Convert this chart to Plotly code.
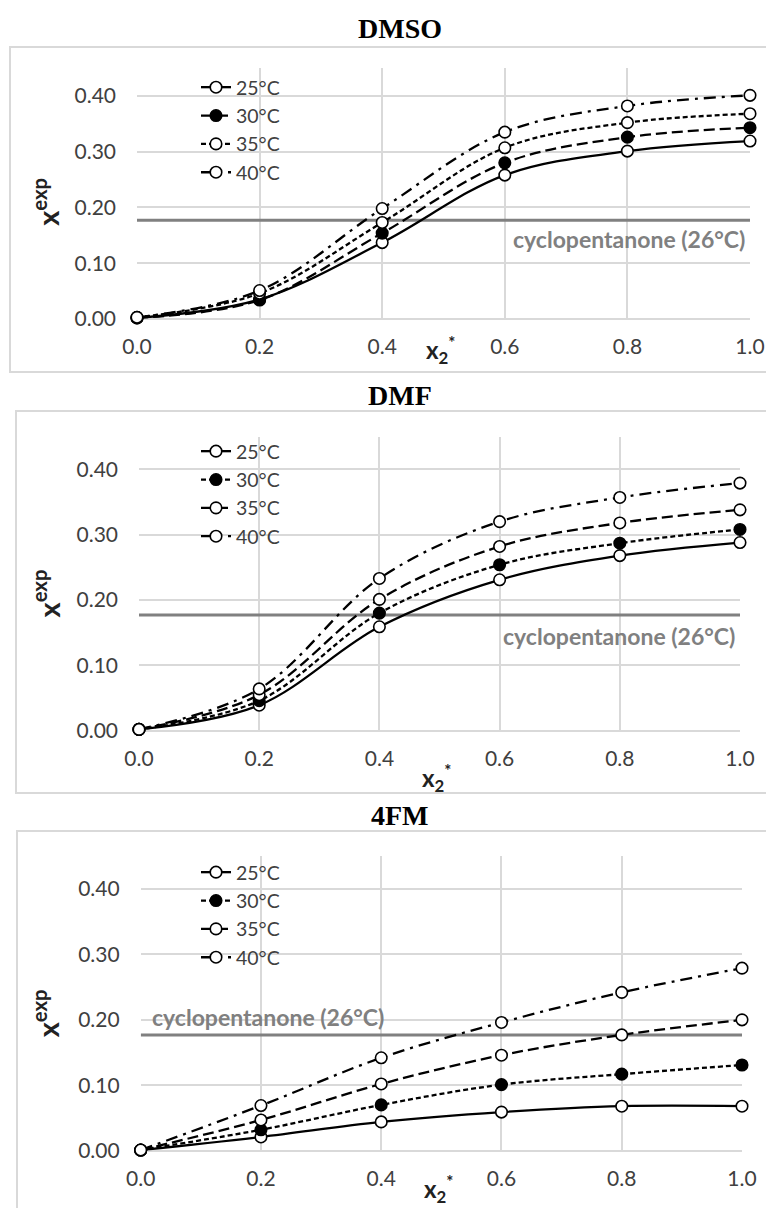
import plotly.graph_objects as go

# ---------------- data ----------------
x2 = [0.0, 0.2, 0.4, 0.6, 0.8, 1.0]
temps = ["25°C", "30°C", "35°C", "40°C"]

dmso_25 = [0.002, 0.035, 0.137, 0.258, 0.301, 0.319]
dmso_30 = [0.002, 0.034, 0.154, 0.280, 0.326, 0.343]
dmso_35 = [0.003, 0.046, 0.173, 0.307, 0.352, 0.368]
dmso_40 = [0.003, 0.051, 0.198, 0.335, 0.382, 0.401]

dmf_25 = [0.002, 0.039, 0.159, 0.231, 0.268, 0.288]
dmf_30 = [0.002, 0.046, 0.180, 0.254, 0.287, 0.308]
dmf_35 = [0.002, 0.055, 0.201, 0.282, 0.318, 0.338]
dmf_40 = [0.002, 0.064, 0.233, 0.320, 0.357, 0.379]

fm_25 = [0.001, 0.021, 0.044, 0.059, 0.068, 0.068]
fm_30 = [0.001, 0.032, 0.070, 0.101, 0.117, 0.131]
fm_35 = [0.001, 0.047, 0.102, 0.146, 0.177, 0.200]
fm_40 = [0.001, 0.069, 0.142, 0.196, 0.242, 0.279]

cyclopentanone = 0.177
cyclo_label = "cyclopentanone (26°C)"

panel_names = ["DMSO", "DMF", "4FM"]
x_ticks = [0.0, 0.2, 0.4, 0.6, 0.8, 1.0]
y_ticks = [0.0, 0.1, 0.2, 0.3, 0.4]

# ---------------- styles ----------------
SOLID = "solid"
LONG = "11px,5px"
SHORT = "5px,3px"
DASHDOT = "12px,6px,3px,6px"

W, H = 774, 1208
OFF = 8  # page body margin


def px_x(p):
    return (p - OFF) / W


def px_y(p):
    return 1 - (p - OFF) / H


panels = [
    dict(name="DMSO", data=[dmso_25, dmso_30, dmso_35, dmso_40],
         dashes=[SOLID, LONG, SHORT, DASHDOT],
         xdom=[px_x(137), px_x(750)], ydom=[px_y(319), px_y(68)],
         title_y=29, legend_top=68, border=(10, 47, 372),
         xt_y=350, cyclo=dict(x=0.995, y=0.143, xanchor="right")),
    dict(name="DMF", data=[dmf_25, dmf_30, dmf_35, dmf_40],
         dashes=[SOLID, SHORT, LONG, DASHDOT],
         xdom=[px_x(139), px_x(740)], ydom=[px_y(730.7), px_y(436.7)],
         title_y=395, legend_top=432, border=(16, 411, 793),
         xt_y=778, cyclo=dict(x=0.995, y=0.145, xanchor="right")),
    dict(name="4FM", data=[fm_25, fm_30, fm_35, fm_40],
         dashes=[SOLID, SHORT, LONG, DASHDOT],
         xdom=[px_x(140.7), px_x(742)], ydom=[px_y(1150.7), px_y(856.3)],
         title_y=815, legend_top=853, border=(17, 831, 1240),
         xt_y=1189, cyclo=dict(x=0.015, y=0.205, xanchor="left")),
]

fig = go.Figure()
TICKFONT = dict(family="Lato, Carlito, Calibri, sans-serif", size=21, color="#404040")
GRID = "#d9d9d9"

annotations = []
shapes = []

for i, p in enumerate(panels):
    sfx = "" if i == 0 else str(i + 1)
    xa, ya = "x" + sfx, "y" + sfx
    leg = "legend" + sfx

    # cyclopentanone reference line
    fig.add_trace(go.Scatter(
        x=[x_ticks[0], x_ticks[-1]], y=[cyclopentanone, cyclopentanone],
        mode="lines", line=dict(color="#808080", width=3),
        showlegend=False, hoverinfo="skip", xaxis=xa, yaxis=ya))

    for j, (t, ys) in enumerate(zip(temps, p["data"])):
        filled = (j == 1)
        fig.add_trace(go.Scatter(
            x=x2, y=ys, name=t, mode="lines+markers",
            line=dict(color="black", width=2.3, dash=p["dashes"][j],
                      shape="spline", smoothing=1.0),
            marker=dict(size=11.5, symbol="circle",
                        color="black" if filled else "white",
                        line=dict(color="black", width=1.6)),
            cliponaxis=False, xaxis=xa, yaxis=ya,
            legend=leg, legendgroup=f"{p['name']}{t}"))

    fig.layout[("xaxis" + sfx)] = dict(
        domain=p["xdom"], anchor=ya, range=[0, 1], tickvals=x_ticks,
        tickformat=".1f", showgrid=True, gridcolor=GRID, gridwidth=1.6,
        zeroline=False, showline=False, ticks="", tickfont=TICKFONT,
        ticklabelstandoff=13, fixedrange=True, automargin=False)
    fig.layout[("yaxis" + sfx)] = dict(
        domain=p["ydom"], anchor=xa, range=[0, 0.45], tickvals=y_ticks,
        tickformat=".2f", showgrid=True, gridcolor=GRID, gridwidth=1.6,
        zeroline=True, zerolinecolor=GRID, zerolinewidth=1.6,
        showline=False, ticks="", tickfont=TICKFONT,
        ticklabelstandoff=20, fixedrange=True, automargin=False)

    fig.layout[leg] = dict(
        x=px_x(196), y=px_y(p["legend_top"]), xanchor="left", yanchor="top",
        bgcolor="rgba(0,0,0,0)", borderwidth=0, tracegroupgap=0,
        font=dict(family="Lato, Carlito, Calibri, sans-serif", size=19.5, color="#404040"),
        traceorder="grouped")

    # panel title
    annotations.append(dict(
        text="<b>" + p["name"] + "</b>", x=px_x(400), y=px_y(p["title_y"]),
        xref="paper", yref="paper",
        showarrow=False, xanchor="center", yanchor="middle",
        font=dict(family="Liberation Serif, serif", size=28, color="black")))
    # y-axis title
    annotations.append(dict(
        text="<b>x<sup>exp</sup></b>", x=px_x(46), y=0.21, xref="paper", yref=ya,
        showarrow=False, textangle=-90, xanchor="center", yanchor="middle",
        font=dict(family="Lato, Carlito, sans-serif", size=29, color="#222222")))
    # x-axis title
    annotations.append(dict(
        text="<b>x<sub>2</sub><sup>*</sup></b>", x=0.495, y=px_y(p["xt_y"]),
        xref=xa, yref="paper", showarrow=False, xanchor="center", yanchor="middle",
        font=dict(family="Lato, Carlito, sans-serif", size=24, color="#222222")))
    # cyclopentanone label
    c = p["cyclo"]
    annotations.append(dict(
        text="<b>" + cyclo_label + "</b>", x=c["x"], y=c["y"], xref=xa, yref=ya,
        showarrow=False, xanchor=c["xanchor"], yanchor="middle",
        font=dict(family="Lato, Carlito, sans-serif", size=23, color="#808080")))
    # chart border
    bx, btop, bbot = p["border"]
    shapes.append(dict(type="rect", xref="paper", yref="paper",
                       x0=px_x(bx), x1=1.03, y0=px_y(bbot), y1=px_y(btop),
                       line=dict(color="#d9d9d9", width=2), fillcolor="rgba(0,0,0,0)",
                       layer="below"))

fig.update_layout(
    width=W, height=H, margin=dict(l=0, r=0, t=0, b=0, autoexpand=False),
    paper_bgcolor="white", plot_bgcolor="white",
    annotations=annotations, shapes=shapes, showlegend=True,
)

fig.write_html("out.html")
